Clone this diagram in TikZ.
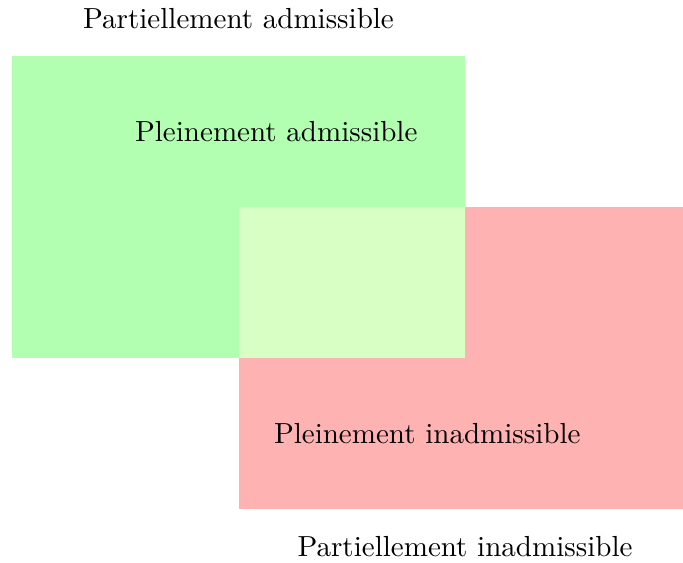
\documentclass[tikz,border=0pt]{standalone}
\definecolor{overlapgreen}{RGB}{216,255,196}
\begin{document}
\begin{tikzpicture}[every node/.style={font=\fontsize{10.95}{13.6}\selectfont}]
			\useasboundingbox (-0.16, -2.715) rectangle (8.887, 4.742);
			%%draw the zones
			\fill[green!30](0, 0) rectangle (6, 4);
			\fill[red!30](3, -2) rectangle (9, 2);
			\fill[overlapgreen](3, 0) rectangle (6, 2);

			%%draw the labels
			\node (partadm) at (3, 4.5){Partiellement admissible};
			\node (pleinadm) at (3.5, 3){Pleinement admissible};
			\node (pleininadm) at (5.5, -1){Pleinement inadmissible};
			\node (partinadm) at (6, -2.5){Partiellement inadmissible};
		\end{tikzpicture}
\end{document}
